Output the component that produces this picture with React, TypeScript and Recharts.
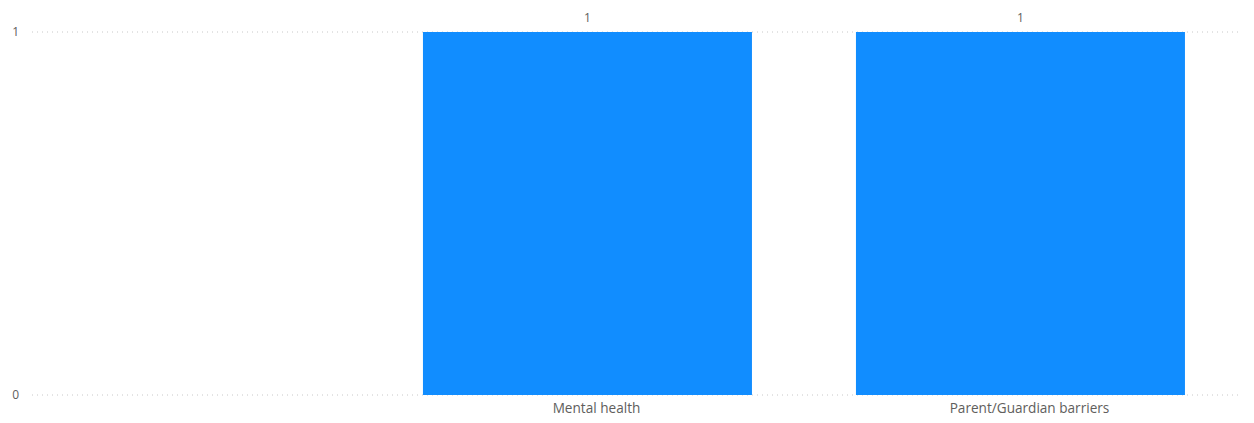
import React from "react";
import { BarChart, Bar, XAxis, YAxis, CartesianGrid, LabelList } from "recharts";

const categories = ["Mental health", "Parent/Guardian barriers"];
const values = [1, 1];
const yTicks = [0, 1];

const data = categories.map((c, i) => ({ name: c, value: values[i] }));

const FONT = "'Open Sans', 'Noto Sans', sans-serif";
const TEXT = "#605E5C";

export default function App() {
  return (
    <div style={{ position: "absolute", left: 0, top: 0, width: 1254, height: 423, background: "#fff" }}>
      <BarChart
        width={1254}
        height={423}
        data={data}
        margin={{ top: 32, right: 14, bottom: 0, left: 0 }}
        barCategoryGap="12%"
      >
        <CartesianGrid vertical={false} stroke="#C8C8C8" strokeDasharray="1 4" />
        <XAxis
          dataKey="name"
          height={28}
          axisLine={false}
          tickLine={false}
          tickSize={0}
          tickMargin={8}
          interval={0}
          padding={{ left: 339, right: 3 }}
          tick={{ fill: TEXT, fontSize: 13.6, fontFamily: FONT, dx: 9 }}
        />
        <YAxis
          width={32}
          domain={[0, 1]}
          ticks={yTicks}
          axisLine={false}
          tickLine={false}
          tickSize={0}
          tickMargin={13}
          tick={{ fill: TEXT, fontSize: 12, fontFamily: FONT }}
        />
        <Bar dataKey="value" fill="#118DFF" isAnimationActive={false}>
          <LabelList dataKey="value" position="top" offset={10} fill={TEXT} fontSize={12} fontFamily={FONT} />
        </Bar>
      </BarChart>
    </div>
  );
}
